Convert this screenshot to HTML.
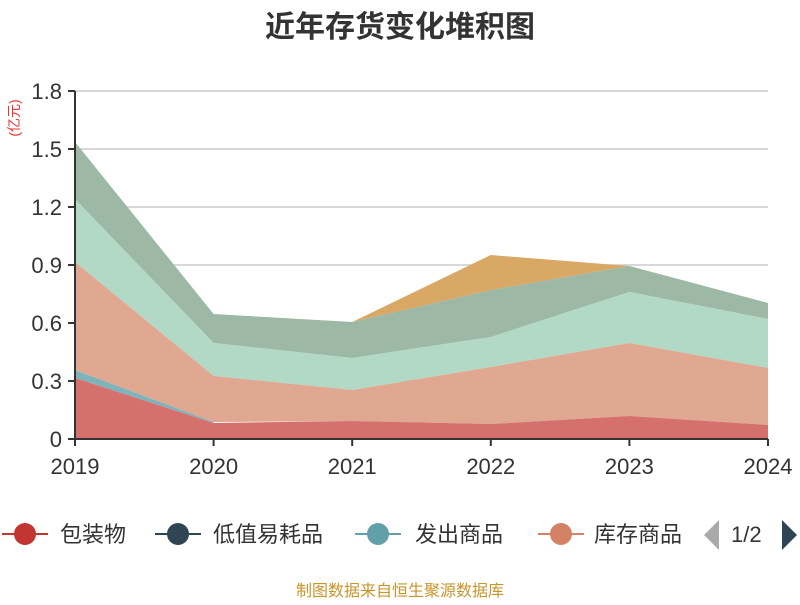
<!DOCTYPE html>
<html><head><meta charset="utf-8"><style>
body{margin:0;background:#fff;font-family:"Liberation Sans","Noto Sans CJK SC",sans-serif}
</style></head><body>
<svg width="800" height="600" xmlns="http://www.w3.org/2000/svg" font-family="Liberation Sans, Noto Sans CJK SC, sans-serif">
<text x="400" y="37" text-anchor="middle" font-size="30" font-weight="bold" fill="#333">近年存货变化堆积图</text>
<g stroke="#ccc" stroke-width="1.5">
<line x1="75" y1="91" x2="768" y2="91"/><line x1="75" y1="149" x2="768" y2="149"/><line x1="75" y1="207" x2="768" y2="207"/><line x1="75" y1="265" x2="768" y2="265"/><line x1="75" y1="323" x2="768" y2="323"/><line x1="75" y1="381" x2="768" y2="381"/>
</g>
<polygon fill="#d9a864" points="75,142 213.6,314 352.2,322 490.8,255 629.4,266 768,303 768,303 629.4,266 490.8,290 352.2,322 213.6,314 75,142"/>
<polygon fill="#9db8a4" points="75,142 213.6,314 352.2,322 490.8,290 629.4,266 768,303 768,319 629.4,292 490.8,337 352.2,358 213.6,343 75,199"/>
<polygon fill="#b2d8c6" points="75,199 213.6,343 352.2,358 490.8,337 629.4,292 768,319 768,368 629.4,343 490.8,367 352.2,390 213.6,376 75,262"/>
<polygon fill="#e0a791" points="75,262 213.6,376 352.2,390 490.8,367 629.4,343 768,368 768,425 629.4,416 490.8,424 352.2,421 213.6,422 75,370"/>
<polygon fill="#7fb3bb" points="75,370 213.6,422 213.6,423 75,378"/>
<polygon fill="#d6706d" points="75,378 213.6,423 352.2,421 490.8,424 629.4,416 768,425 768,439 75,439"/>
<line x1="75" y1="91" x2="75" y2="440" stroke="#333" stroke-width="2"/>
<line x1="74" y1="439" x2="768" y2="439" stroke="#333" stroke-width="2"/>
<g stroke="#333" stroke-width="2">
<line x1="68" y1="91" x2="75" y2="91"/><line x1="68" y1="149" x2="75" y2="149"/><line x1="68" y1="207" x2="75" y2="207"/><line x1="68" y1="265" x2="75" y2="265"/><line x1="68" y1="323" x2="75" y2="323"/><line x1="68" y1="381" x2="75" y2="381"/><line x1="68" y1="439" x2="75" y2="439"/>
<line x1="75" y1="439" x2="75" y2="446"/><line x1="213.6" y1="439" x2="213.6" y2="446"/><line x1="352.2" y1="439" x2="352.2" y2="446"/><line x1="490.8" y1="439" x2="490.8" y2="446"/><line x1="629.4" y1="439" x2="629.4" y2="446"/><line x1="768" y1="439" x2="768" y2="446"/>
</g>
<g font-size="22" fill="#333" text-anchor="end">
<text x="62" y="99">1.8</text><text x="62" y="157">1.5</text><text x="62" y="215">1.2</text><text x="62" y="273">0.9</text><text x="62" y="331">0.6</text><text x="62" y="389">0.3</text><text x="62" y="447">0</text>
</g>
<g font-size="22" fill="#333" text-anchor="middle">
<text x="75" y="474">2019</text><text x="213.6" y="474">2020</text><text x="352.2" y="474">2021</text><text x="490.8" y="474">2022</text><text x="629.4" y="474">2023</text><text x="768" y="474">2024</text>
</g>
<text transform="translate(19,118) rotate(-90)" text-anchor="middle" font-size="14" fill="#e33">(亿元)</text>
<g font-size="22" fill="#333">
<line x1="2" y1="534" x2="48" y2="534" stroke="#c23531" stroke-width="2"/><circle cx="25" cy="534" r="11" fill="#c23531"/><text x="60" y="542">包装物</text>
<line x1="155" y1="534" x2="201" y2="534" stroke="#2f4554" stroke-width="2"/><circle cx="178" cy="534" r="11" fill="#2f4554"/><text x="213" y="542">低值易耗品</text>
<line x1="355" y1="534" x2="401" y2="534" stroke="#61a0a8" stroke-width="2"/><circle cx="378" cy="534" r="11" fill="#61a0a8"/><text x="415" y="542">发出商品</text>
<line x1="538" y1="534" x2="584" y2="534" stroke="#d48265" stroke-width="2"/><circle cx="561" cy="534" r="11" fill="#d48265"/><text x="594" y="542">库存商品</text>
<rect x="683" y="515" width="25" height="40" fill="#fff"/>
<polygon points="719,520 719,550 704,535" fill="#aaa"/>
<text x="731" y="542">1/2</text>
<polygon points="782,520 782,550 797,535" fill="#2f4554"/>
</g>
<text x="400" y="596" text-anchor="middle" font-size="16" fill="#c8952a">制图数据来自恒生聚源数据库</text>
</svg>
</body></html>
